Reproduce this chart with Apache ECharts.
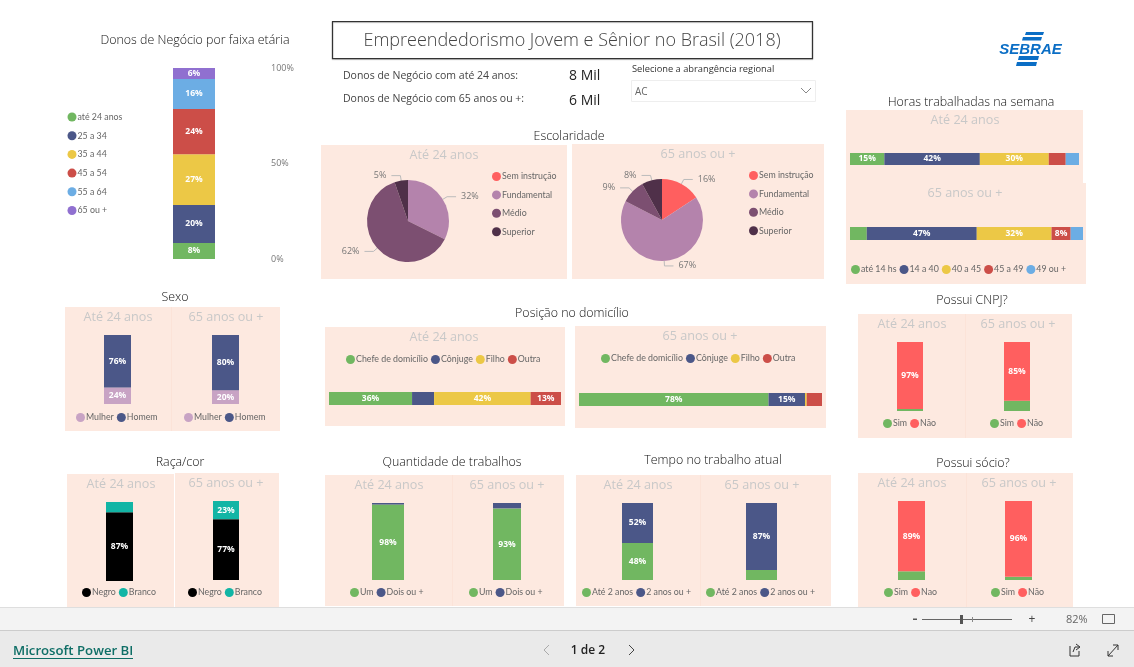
<!DOCTYPE html>
<html><head><meta charset="utf-8">
<style>html,body{margin:0;padding:0;background:#fff}#c{width:1134px;height:667px}</style>
<script src="https://cdn.jsdelivr.net/npm/echarts@6/dist/echarts.min.js"></script>
</head><body><div id="c"></div>
<script>
// ---------- data ----------
const idadeCats = ['até 24 anos','25 a 34','35 a 44','45 a 54','55 a 64','65 ou +'];
const idadeValues = [8.4,19.9,26.6,23.6,15.7,5.8];
const idadeTicks = [0,50,100];

const escolCats = ['Sem instrução','Fundamental','Médio','Superior'];
const escolJovem = [0,32.3,62.4,5.3];
const escolSenior = [15.7,66.9,9.4,8.0];

const horasCats = ['até 14 hs','14 a 40','40 a 45','45 a 49','49 ou +'];
const horasJovem = [15,41.7,30.1,7.4,5.8];
const horasSenior = [7.2,47.2,32.1,8.2,5.3];

const sexoCats = ['Mulher','Homem'];
const sexoJovem = [24,76];
const sexoSenior = [20,80];

const racaCats = ['Negro','Branco'];
const racaJovem = [87,13];
const racaSenior = [77,23];

const posicaoCats = ['Chefe de domicílio','Cônjuge','Filho','Outra'];
const posicaoJovem = [35.8,9.5,41.6,13.1];
const posicaoSenior = [78,15,0.7,6.3];

const trabCats = ['Um','Dois ou +'];
const trabJovem = [98,2];
const trabSenior = [93,7];

const tempoCats = ['Até 2 anos','2 anos ou +'];
const tempoJovem = [48,52];
const tempoSenior = [13,87];

const cnpjCats = ['Sim','Não'];
const cnpjJovem = [3,97];
const cnpjSenior = [15,85];

const socioCatsJovem = ['Sim','Nao'];
const socioCatsSenior = ['Sim','Não'];
const socioJovem = [11,89];
const socioSenior = [4,96];

const tituloTexto = 'Empreendedorismo Jovem e Sênior no Brasil (2018)';
const kpiJovem = '8 Mil', kpiSenior = '6 Mil';

// ---------- styles ----------
const FONT = '"Open Sans", sans-serif';
const LEGFONT = 'Lato, sans-serif';
const G='#71B761',B='#4B5788',Y='#ECC846',R='#CC4E48',L='#6CADE4',P='#9070D0',C='#FF5F5F';
const PANEL='#FDE9E0', TXT='#666666';
const pal5=[G,B,Y,R,L], palSN=[G,C];

const series=[],grids=[],xAxes=[],yAxes=[],legends=[],gfx=[];

function addLegend(names,colors,left,top,opt){
  legends.push(Object.assign({
    left,top,padding:0,orient:'horizontal',itemGap:3,itemWidth:9,itemHeight:9,icon:'circle',
    selectedMode:false,
    data:names.map((n,i)=>({name:n,itemStyle:{color:colors[i]}})),
    textStyle:{fontFamily:LEGFONT,fontSize:8.8,color:TXT,padding:[0,0,0,-4]}
  },opt||{}));
}
function stacked(o){
  const gi=grids.length, r=o.rect;
  grids.push({left:r[0],top:r[1],width:r[2]-r[0],height:r[3]-r[1],containLabel:false});
  const cat={type:'category',data:[''],gridIndex:gi,show:false};
  const val={type:'value',min:0,max:100,gridIndex:gi,show:false};
  if(o.axisRight){Object.assign(val,{show:true,position:'right',interval:50,
    axisLine:{show:false},axisTick:{show:false},splitLine:{show:false},
    axisLabel:{margin:56,align:'left',color:'#777',fontSize:9,fontFamily:FONT,padding:[4,0,0,0],formatter:'{value}%'}});}
  xAxes.push(o.horizontal?val:cat);
  yAxes.push(o.horizontal?cat:val);
  o.cats.forEach((n,i)=>{
    series.push({type:'bar',name:n,stack:'s'+gi,xAxisIndex:gi,yAxisIndex:gi,barWidth:'100%',
      data:[o.values[i]],itemStyle:{color:o.colors[i]},
      label:{show:o.values[i]>=(o.minLabel||16),position:'inside',color:'#fff',fontFamily:FONT,fontSize:8.5,fontWeight:'bold',
        formatter:p=>Math.round(p.value)+'%'}});
  });
}
function rect(x0,y0,x1,y1,fill,extra){
  gfx.push(Object.assign({type:'rect',shape:{x:x0,y:y0,width:x1-x0,height:y1-y0},style:{fill},silent:true,z:0},extra||{}));
}
function text(t,x,y,size,color,align,extra){
  gfx.push({type:'text',x,y:y+1.5,silent:true,z:1,style:Object.assign({text:t,fill:color,textAlign:align||'left',textVerticalAlign:'middle',
    font:(extra&&extra.weight||'300')+' '+size+'px '+FONT},extra&&extra.style||{})});
}
const title=(t,x,y)=>text(t,x,y+0.5,12.4,'#111','center',{weight:'300'});
const head=(t,x,y)=>text(t,x,y,12.6,'#C8C8C8','center',{weight:'400'});
function poly(points,stroke,w,fill){
  gfx.push({type:fill?'polygon':'polyline',shape:{points},silent:true,z:1,style:fill?{fill}:{stroke,lineWidth:w,fill:null}});
}

// ---------- panels ----------
[[321,145,567,279],[572,144,824,279],[846,110,1083,183],[846,183,1086,284],
 [65,307,280,431],[67,474,174,607],[175,473,279,607],[325,327,565,426],[575,326,826,428],
 [325,475,564,606],[576,475,831,606],[858,314,1072,438],[858,473,1073,607]].forEach(p=>rect(p[0],p[1],p[2],p[3],PANEL));
[[171,307,431],[452,475,606],[700,475,606],[965,314,438],[966,473,607]].forEach(d=>rect(d[0],d[1],d[0]+1,d[2],'#FCE3D8'));

// ---------- texts ----------
rect(332.5,21.5,812.5,58.5,'#fff',{style:{fill:'#fff',stroke:'#333',lineWidth:1.2,shadowColor:'#aaa',shadowOffsetY:1,shadowBlur:1}});
text(tituloTexto,572,39,18,'#444','center',{weight:'300'});
title('Donos de Negócio por faixa etária',195,38.5);
text('Donos de Negócio com até 24 anos:',343,74.5,10.5,'#444','left',{weight:'400'});
text('Donos de Negócio com 65 anos ou +:',343,97.5,10.5,'#444','left',{weight:'400'});
text(kpiJovem,569,75,14,'#222','left',{weight:'400'});
text(kpiSenior,569,100,14,'#222','left',{weight:'400'});
text('Selecione a abrangência regional',632,68,9.3,'#333','left',{weight:'400'});
rect(631.5,80.5,815.5,101.5,'#fff',{style:{fill:'#fff',stroke:'#EEEEEE',lineWidth:1}});
text('AC',635,91,10,'#666','left',{weight:'400'});
poly([[801,88],[806,93],[811,88]],'#888',1);

title('Escolaridade',569,134.5);
head('Até 24 anos',444,153.5); head('65 anos ou +',698,152.5);
title('Horas trabalhadas na semana',971,100.5);
head('Até 24 anos',965,118.5); head('65 anos ou +',965,191.5);
title('Sexo',175,295.5);
head('Até 24 anos',118,316); head('65 anos ou +',226,316);
title('Raça/cor',180,460.5);
head('Até 24 anos',121,483); head('65 anos ou +',226,482);
title('Posição no domicílio',572,311.5);
head('Até 24 anos',444,335.5); head('65 anos ou +',700,334.5);
title('Quantidade de trabalhos',452,460.5);
head('Até 24 anos',389,484); head('65 anos ou +',507,484);
title('Tempo no trabalho atual',713,458.5);
head('Até 24 anos',638,484); head('65 anos ou +',762,484);
title('Possui CNPJ?',972,298.5);
head('Até 24 anos',912,322.5); head('65 anos ou +',1018,322.5);
title('Possui sócio?',973,461.5);
head('Até 24 anos',912,481.5); head('65 anos ou +',1019,481.5);

// ---------- logo ----------
const LOGO='#0B6EC5';
poly([[1026,32],[1044,32],[1043,35],[1025,35]],null,0,LOGO);
poly([[1023,37],[1042,37],[1041,40.5],[1022,40.5]],null,0,LOGO);
poly([[1019,56],[1039,56],[1038,60],[1018,60]],null,0,LOGO);
poly([[1017,62],[1037,62],[1036,66],[1016,66]],null,0,LOGO);
gfx.push({type:'text',x:1030.5,y:49.5,silent:true,z:1,style:{text:'SEBRAE',fill:LOGO,textAlign:'center',textVerticalAlign:'middle',font:'italic 800 15px "Liberation Sans", sans-serif'}});

// ---------- footer ----------
rect(0,607,1134,630,'#F3F3F3'); rect(0,607,1134,608,'#DEDEDE');
rect(0,630,1134,667,'#EAEAEA'); rect(0,630,1134,631,'#CCCCCC');
text('Microsoft Power BI',13,650,13.2,'#0E6E66','left',{weight:'600'});
rect(13,658,133,659,'#0E6E66');
text('1 de 2',588,649,12,'#222','center',{weight:'600'});
poly([[549,645],[544,650],[549,655]],'#AAAAAA',1);
poly([[629,645],[634,650],[629,655]],'#444',1);
rect(913,618.5,917,620,'#555');
rect(922,619,1012,620,'#666');
rect(960,615,963,624,'#555');
rect(972,617,973,622,'#888');
text('+',1032,618,12,'#444','center',{weight:'400'});
text('82%',1066,618,11,'#666','left',{weight:'400'});
rect(1102.5,614.5,1114.5,623.5,'none',{style:{fill:'none',stroke:'#666',lineWidth:1}});
poly([[1070,646],[1070,656],[1079,656],[1079,651]],'#333',1);
poly([[1073,652],[1075,647],[1079,647]],'#333',1);
poly([[1076,644],[1080,647],[1076,650]],'#333',1);
poly([[1108,656],[1118,645]],'#333',1);
poly([[1113,645],[1118,645],[1118,650]],'#333',1);
poly([[1108,651],[1108,656],[1113,656]],'#333',1);

// ---------- charts ----------
stacked({rect:[173,68,215,259],cats:idadeCats,colors:[G,B,Y,R,L,P],values:idadeValues,minLabel:5,axisRight:true});
addLegend(idadeCats,[G,B,Y,R,L,P],67.5,112.5,{orient:'vertical',itemGap:9.7});

function pie(name,vals,cx,cy,lx,ly){
  const colors=[C,'#B483AC','#7C4F71','#4F3049'];
  series.push({type:'pie',name,center:[cx,cy],radius:41,startAngle:90,avoidLabelOverlap:false,
    data:escolCats.map((n,i)=>({name:n,value:vals[i],itemStyle:{color:colors[i]},
      label:{show:vals[i]>0},labelLine:{show:vals[i]>0}})),
    label:{color:'#777',fontSize:9,fontFamily:FONT,formatter:p=>Math.round(p.value)+'%'},
    labelLine:{length:5,length2:9,lineStyle:{color:'#BBBBBB',width:1}}});
  addLegend(escolCats,colors,lx,ly,{orient:'vertical',itemGap:9.4});
}
pie('Até 24 anos',escolJovem,408,221,492,172);
pie('65 anos ou +',escolSenior,662,220,749,171);

stacked({horizontal:true,rect:[850,153,1079,165],cats:horasCats,colors:pal5,values:horasJovem,minLabel:8});
stacked({horizontal:true,rect:[850,227,1083,240],cats:horasCats,colors:pal5,values:horasSenior,minLabel:8});
addLegend(horasCats,pal5,851,265);

stacked({rect:[104,335,131,404],cats:sexoCats,colors:['#C8A3C4',B],values:sexoJovem});
stacked({rect:[212,335,239,404],cats:sexoCats,colors:['#C8A3C4',B],values:sexoSenior});
addLegend(sexoCats,['#C8A3C4',B],76,413); addLegend(sexoCats,['#C8A3C4',B],184,413);

stacked({rect:[106,502,133,581],cats:racaCats,colors:['#000','#12B5A5'],values:racaJovem});
stacked({rect:[213,501,239,580],cats:racaCats,colors:['#000','#12B5A5'],values:racaSenior});
addLegend(racaCats,['#000','#12B5A5'],82,588); addLegend(racaCats,['#000','#12B5A5'],188,588);

stacked({horizontal:true,rect:[329,392,561,405],cats:posicaoCats,colors:[G,B,Y,R],values:posicaoJovem,minLabel:13});
stacked({horizontal:true,rect:[579,393,822,406],cats:posicaoCats,colors:[G,B,Y,R],values:posicaoSenior,minLabel:13});
addLegend(posicaoCats,[G,B,Y,R],346,355); addLegend(posicaoCats,[G,B,Y,R],601,354);

stacked({rect:[372,503,404,580],cats:trabCats,colors:[G,B],values:trabJovem});
stacked({rect:[493,503,521,580],cats:trabCats,colors:[G,B],values:trabSenior});
addLegend(trabCats,[G,B],350,588); addLegend(trabCats,[G,B],469,588);

stacked({rect:[622,503,653,580],cats:tempoCats,colors:[G,B],values:tempoJovem});
stacked({rect:[746,503,777,580],cats:tempoCats,colors:[G,B],values:tempoSenior});
addLegend(tempoCats,[G,B],582,588); addLegend(tempoCats,[G,B],706,588);

stacked({rect:[897,342,923,411],cats:cnpjCats,colors:palSN,values:cnpjJovem});
stacked({rect:[1004,342,1030,411],cats:cnpjCats,colors:palSN,values:cnpjSenior});
addLegend(cnpjCats,palSN,883,419); addLegend(cnpjCats,palSN,990,419);

stacked({rect:[898,501,925,580],cats:socioCatsJovem,colors:palSN,values:socioJovem});
stacked({rect:[1005,501,1032,580],cats:socioCatsSenior,colors:palSN,values:socioSenior});
addLegend(socioCatsJovem,palSN,884,588); addLegend(socioCatsSenior,palSN,991,588);

const chart=echarts.init(document.getElementById('c'),null,{renderer:'canvas'});
chart.setOption({animation:false,backgroundColor:'#fff',tooltip:{show:false},
  grid:grids,xAxis:xAxes,yAxis:yAxes,series,legend:legends,graphic:{elements:gfx}});
</script></body></html>
